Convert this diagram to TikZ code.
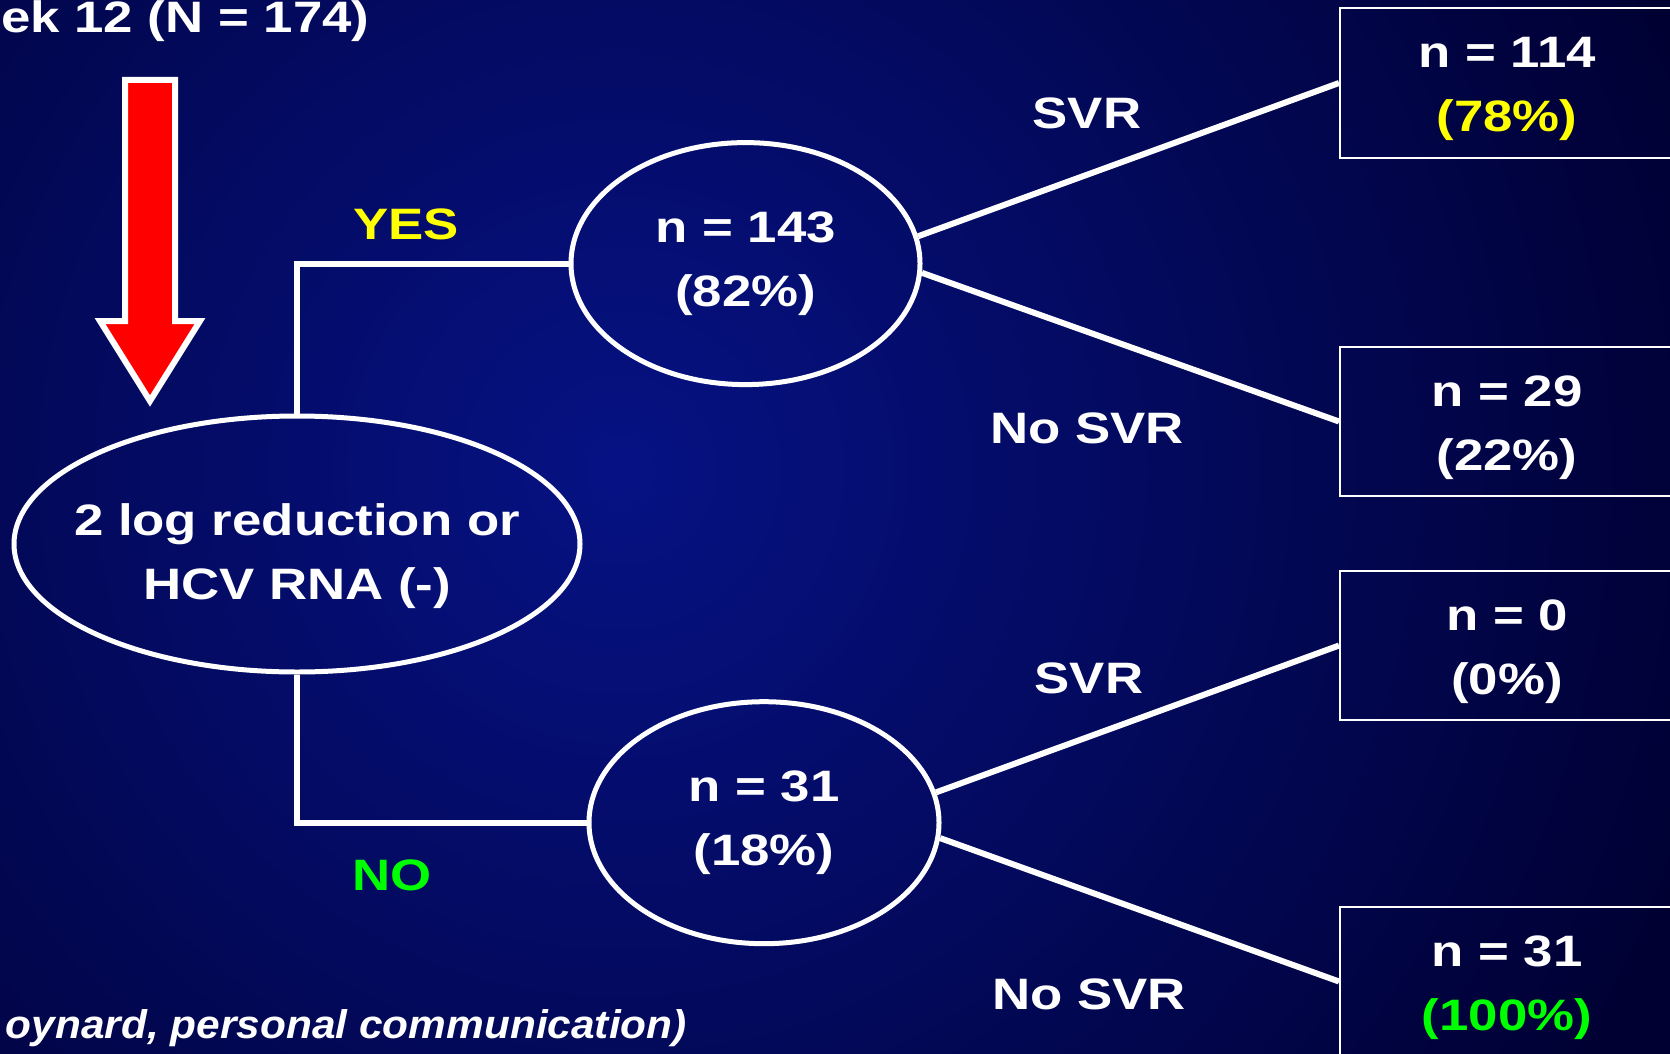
\documentclass[tikz,border=0pt]{standalone}
\usepackage{fontspec}
\setmainfont{Liberation Sans}[FakeStretch=1.2]
\newfontfamily\citefont{Liberation Sans}[FakeStretch=1.06]
\usetikzlibrary{shapes.geometric}
\definecolor{bgdark}{RGB}{0,0,50}
\definecolor{bgmid}{RGB}{6,18,132}
\definecolor{yel}{RGB}{255,255,0}
\definecolor{grn}{RGB}{0,255,0}
\begin{document}
\begin{tikzpicture}[x=1pt,y=-1pt,
  txt/.style={text=white, font=\fontsize{44}{64}\selectfont\bfseries, align=center},
  oval/.style={ellipse, draw=white, line width=5pt, inner sep=0pt, txt},
  outbox/.style={rectangle, draw=white, line width=2pt, minimum width=334pt, minimum height=149pt, inner sep=0pt},
  conn/.style={draw=white, line width=6pt},
  lbl/.style={txt}
]
\useasboundingbox (0,0) rectangle (1670,1054);
\begin{scope}
  \clip (0,0) rectangle (1670,1054);
  \fill[bgdark] (0,0) rectangle (1670,1054);
  \shade[inner color=bgmid, outer color=bgdark] (620,470) circle (1150pt);
\end{scope}

% red arrow
\draw[fill=red, draw=white, line width=6pt, line join=miter]
  (125,80) -- (175,80) -- (175,321) -- (200,321) -- (150,401) -- (100,321) -- (125,321) -- cycle;

% nodes
\node[oval, minimum width=566pt, minimum height=256pt,
  label={[txt, yshift=-12pt]center:{2 log reduction or\\HCV RNA (-)}}] (root) at (297,544) {};
\node[oval, minimum width=349pt, minimum height=242pt] (yes) at (745.5,263.6) {n = 143\\(82\%)};
\node[oval, minimum width=350pt, minimum height=242pt] (no) at (764,822.7) {n = 31\\(18\%)};

\node[outbox, label={[txt, yshift=-6pt]center:{n = 114\\\textcolor{yel}{(78\%)}}}] (b1) at (1507,83) {};
\node[outbox, label={[txt, yshift=-6pt]center:{n = 29\\(22\%)}}] (b2) at (1507,421.5) {};
\node[outbox, label={[txt, yshift=-6pt]center:{n = 0\\(0\%)}}] (b3) at (1507,645.5) {};
\node[outbox, label={[txt, yshift=-6pt]center:{n = 31\\\textcolor{grn}{(100\%)}}}] (b4) at (1507,981.5) {};

% connectors
\draw[conn] (root.north) |- (yes.west);
\draw[conn] (root.south) |- (no.west);
\draw[conn] (yes.9) -- (b1.west);
\draw[conn] (yes.-3) -- (b2.west);
\draw[conn] (no.10) -- (b3.west);
\draw[conn] (no.-5) -- (b4.west);

% labels
\node[lbl] (svr1) at (1087,113) {SVR};
\node[lbl] (nosvr1) at (1087,428) {No SVR};
\node[lbl] (svr2) at (1089,678) {SVR};
\node[lbl] (nosvr2) at (1089,994) {No SVR};
\node[lbl, text=yel] (yeslbl) at (406,224) {YES};
\node[lbl, text=grn] (nolbl) at (392,875) {NO};

\node[txt, anchor=base east] (title) at (373,33) {ek 12 (N = 174)};
\node[text=white, font=\citefont\fontsize{40}{44}\selectfont\bfseries\itshape, anchor=base east, inner sep=0pt] (cite) at (687,1038) {oynard, personal communication)};
\end{tikzpicture}
\end{document}
